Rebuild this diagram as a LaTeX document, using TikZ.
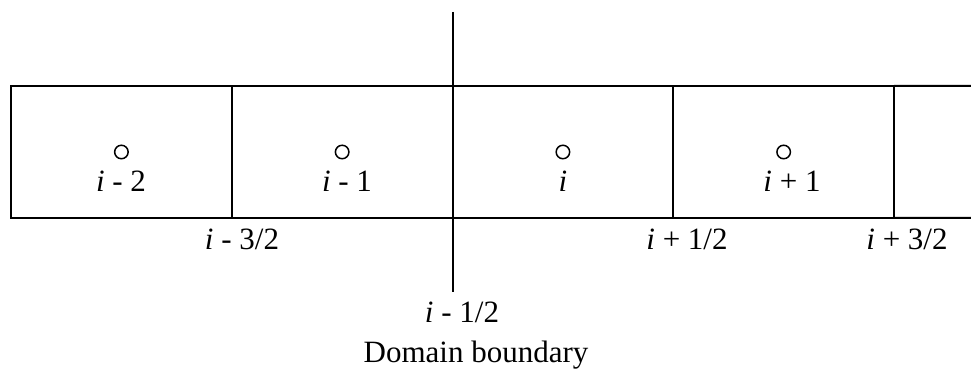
\documentclass[tikz,border=0pt]{standalone}
\usepackage{fontspec}
\setmainfont{Liberation Serif}
\usepackage{tikz}
\usetikzlibrary{positioning}

\begin{document}
\begin{tikzpicture}[
        x=0.4pt, y=-0.4pt,
        line width=0.8pt,
        cell/.style={draw, minimum width=88.3pt, minimum height=52.8pt, inner sep=0pt, outer sep=0pt},
        node/.style={draw, circle, inner sep=0pt, minimum size=5.4pt, line width=0.6pt},
        lbl/.style={anchor=base, inner sep=0pt, font=\fontsize{12.4}{14}\selectfont}
    ]
    \useasboundingbox (0,0) rectangle (971,371);

    % Cells
    \node[cell] (c1) at (121.4,152) {};
    \node[cell, right=0pt of c1] (c2) {};
    \node[cell, right=0pt of c2] (c3) {};
    \node[cell, right=0pt of c3] (c4) {};
    \coordinate (rt) at (971,86);
    \coordinate (rb) at (971,218);
    \draw (c4.north east) -- (rt);
    \draw (c4.south east) -- (rb);

    % Cell centres
    \node[node] (p1) at (c1.center) {};
    \node[node] (p2) at (c2.center) {};
    \node[node] (p3) at (c3.center) {};
    \node[node] (p4) at (c4.center) {};

    \node[lbl] (l1) at (121,192) {\textit{i} - 2};
    \node[lbl] (l2) at (347,192) {\textit{i} - 1};
    \node[lbl] (l3) at (563,192) {\textit{i}};
    \node[lbl] (l4) at (792,192) {\textit{i} + 1};

    % Faces
    \node[lbl] (f1) at (242,250) {\textit{i} - 3/2};
    \node[lbl] (f3) at (687,250) {\textit{i} + 1/2};
    \node[lbl] (f4) at (907,250) {\textit{i} + 3/2};

    % Domain boundary
    \coordinate (bt) at (452.5,12);
    \coordinate (bb) at (452.5,292);
    \draw (bt) -- (bb);
    \node[lbl] (f2) at (462,323) {\textit{i} - 1/2};
    \node[lbl] (dom) at (476,362) {Domain boundary};

\end{tikzpicture}
\end{document}
